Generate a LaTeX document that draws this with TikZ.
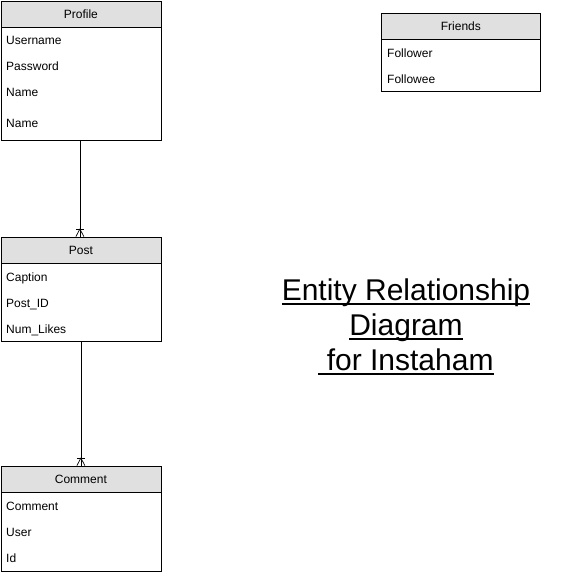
\documentclass[tikz,border=0pt]{standalone}
\usepackage{fontspec}
\setmainfont{Liberation Sans}
\definecolor{hdr}{HTML}{E0E0E0}
\newcommand\ulx[1]{\setbox0\hbox{#1}\rlap{\rule[-4pt]{\wd0}{1.6pt}}\box0}
\begin{document}
\begin{tikzpicture}[x=1pt,y=-1pt,
  tbl/.style={draw=black, line width=0.8pt, anchor=north west, inner sep=0pt, minimum width=160pt},
  hd/.style={draw=black, fill=hdr, line width=0.8pt, anchor=north west, inner sep=0pt, minimum width=160pt, minimum height=26pt, font=\fontsize{12}{14}\selectfont},
  fld/.style={anchor=base west, inner sep=0pt, font=\fontsize{12}{14}\selectfont},
  conn/.style={line width=0.7pt},
  ttl/.style={font=\fontsize{30}{35}\selectfont, align=center}
]
\useasboundingbox (0,0) rectangle (581,574);

% Profile
\node[tbl, minimum height=139pt] (profile) at (0.5,1) {};
\node[hd] (profileh) at (0.5,1) {Profile};
\node[fld] (p1) at (6,44) {Username};
\node[fld] (p2) at (6,70) {Password};
\node[fld] (p3) at (6,96) {Name};
\node[fld] (p4) at (6,127) {Name};

% Post
\node[tbl, minimum height=104pt] (post) at (0.5,237) {};
\node[hd] (posth) at (0.5,237) {Post};
\node[fld] (q1) at (6,281) {Caption};
\node[fld] (q2) at (6,307) {Post\_ID};
\node[fld] (q3) at (6,333) {Num\_Likes};

% Comment
\node[tbl, minimum height=105pt] (comment) at (0.5,466) {};
\node[hd] (commenth) at (0.5,466) {Comment};
\node[fld] (c1) at (6,510) {Comment};
\node[fld] (c2) at (6,536) {User};
\node[fld] (c3) at (6,562) {Id};

% Friends
\node[tbl, minimum width=159pt, minimum height=78pt] (friends) at (381,13) {};
\node[hd, minimum width=159pt] (friendsh) at (381,13) {Friends};
\node[fld] (f1) at (387,57) {Follower};
\node[fld] (f2) at (387,83) {Followee};

% Connectors
\draw[conn] ([xshift=-1pt]profile.south) -- ([xshift=-1pt]posth.north);
\draw[conn] ([xshift=-5pt,yshift=0.4pt]posth.north) -- ([xshift=-1pt,yshift=8pt]posth.north) -- ([xshift=3pt,yshift=0.4pt]posth.north);
\draw[conn] ([xshift=-5pt,yshift=8pt]posth.north) -- ([xshift=3pt,yshift=8pt]posth.north);

\draw[conn] (post.south) -- (commenth.north);
\draw[conn] ([xshift=-4pt,yshift=0.4pt]commenth.north) -- ([yshift=8pt]commenth.north) -- ([xshift=4pt,yshift=0.4pt]commenth.north);
\draw[conn] ([xshift=-4pt,yshift=8pt]commenth.north) -- ([xshift=4pt,yshift=8pt]commenth.north);

% Title
\node[ttl, anchor=center] (title) at (406,327) {\ulx{Entity Relationship}\\\ulx{Diagram}\\\ulx{\ for Instaham}};
\end{tikzpicture}
\end{document}
